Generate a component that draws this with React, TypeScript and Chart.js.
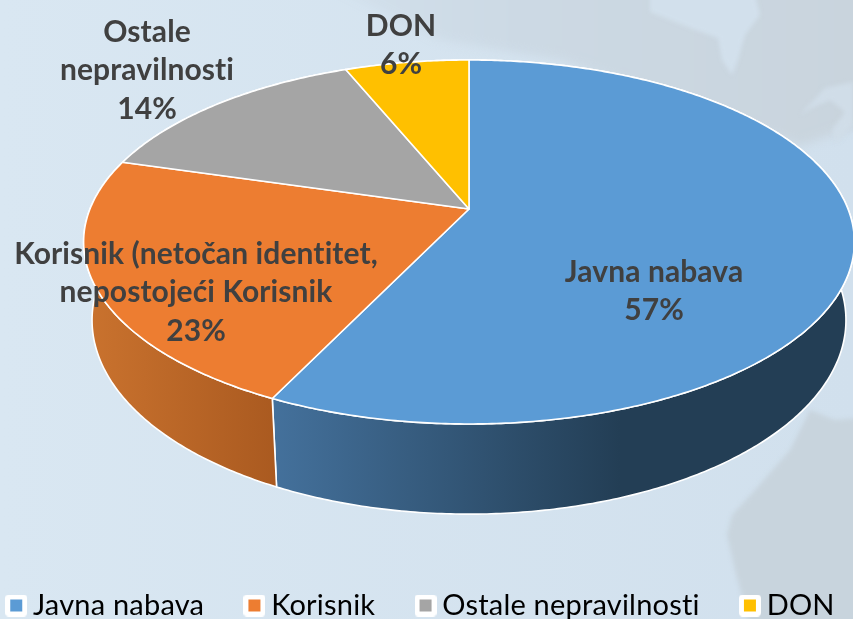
import React, { useEffect, useRef } from "react";
import { Chart, registerables } from "chart.js";

Chart.register(...registerables);

const categories = ["Javna nabava", "Korisnik", "Ostale nepravilnosti", "DON"];
const values = [57.15, 22.35, 14.3, 6.2];
const percentLabels = ["57%", "23%", "14%", "6%"];
const sliceColors = ["#5b9bd5", "#ed7d31", "#a5a5a5", "#ffc000"];
const wallLeftColors = ["#44719c", "#c9722e", "#8a8a8a", "#d9a400"];
const wallRightColors = ["#233e55", "#aa5a20", "#6a6a6a", "#a87f00"];
const labelLines = [
  ["Javna nabava"],
  ["Korisnik (netočan identitet,", "nepostojeći Korisnik"],
  ["Ostale", "nepravilnosti"],
  ["DON"],
];

// label centres (first line), one per slice
const labelCentreX = [654, 196, 147, 401];
const labelFirstY = [272, 254, 32, 26];
const lineStep = 38.5;

// perspective of the disc: x = cx + a*u/(1+k*v), y = y0 + b*v/(1+k*v)
const K = -0.1813;
const CX = 469;
const TOP = { a: 379, y0: 209, b: 176 };
const BOTTOM = { a: 370.7, y0: 285, b: 187.6 };

function project(rim: { a: number; y0: number; b: number }, angle: number) {
  const u = Math.cos(angle);
  const v = Math.sin(angle);
  const d = 1 + K * v;
  return [CX + (rim.a * u) / d, rim.y0 + (rim.b * v) / d];
}

function traceRim(ctx: CanvasRenderingContext2D, rim: any, from: number, to: number, first: boolean) {
  const steps = Math.max(8, Math.ceil(Math.abs(to - from) / 0.01));
  for (let i = 0; i <= steps; i++) {
    const [x, y] = project(rim, from + ((to - from) * i) / steps);
    if (first && i === 0) ctx.moveTo(x, y);
    else ctx.lineTo(x, y);
  }
}

function poly(ctx: CanvasRenderingContext2D, pts: number[][], fill: any) {
  ctx.beginPath();
  pts.forEach(([x, y], i) => (i ? ctx.lineTo(x, y) : ctx.moveTo(x, y)));
  ctx.closePath();
  ctx.fillStyle = fill;
  ctx.fill();
}

function swatch(color: string) {
  const c = document.createElement("canvas");
  c.width = 22;
  c.height = 22;
  const g = c.getContext("2d")!;
  g.fillStyle = "#ffffff";
  g.beginPath();
  g.roundRect(0, 0, 22, 22, 4);
  g.fill();
  g.fillStyle = color;
  g.fillRect(5, 5, 12, 12);
  return c;
}

const backdrop = {
  id: "backdrop",
  beforeLayout(chart: any) {
    chart.ctx.letterSpacing = "0.2px";
  },
  beforeDraw(chart: any) {
    const { ctx, width, height } = chart;
    ctx.letterSpacing = "0.2px";
    ctx.save();
    const sea = ctx.createLinearGradient(0, 0, width, 0);
    sea.addColorStop(0, "#d9e7f2");
    sea.addColorStop(1, "#d1e0ed");
    ctx.fillStyle = sea;
    ctx.fillRect(0, 0, width, height);
    const land = ctx.createLinearGradient(300, 0, 853, 0);
    land.addColorStop(0, "#d3e1ed");
    land.addColorStop(0.4, "#ccd9e4");
    land.addColorStop(1, "#c9d4dd");
    ctx.filter = "blur(5px)";
    poly(ctx, [[330, -15], [870, -15], [870, 122], [800, 146], [700, 110], [560, 60], [440, 40], [400, 20]], land);
    ctx.filter = "blur(2px)";
    poly(ctx, [[650, -5], [755, -5], [760, 15], [745, 35], [738, 60], [732, 75], [722, 60], [718, 38], [690, 28], [650, 12]], "#d2e0ec");
    poly(ctx, [[800, 115], [825, 88], [853, 82], [853, 125], [836, 143], [832, 130], [845, 112], [830, 100], [812, 108]], "#d0dde8");
    poly(ctx, [[860, 418], [835, 420], [810, 410], [790, 450], [755, 490], [732, 515], [727, 535], [735, 570], [750, 625], [860, 625]], "#c8d4dd");
    ctx.restore();
  },
};

const disc3d = {
  id: "disc3d",
  beforeDatasetDraw(chart: any, args: any) {
    const { ctx } = chart;
    const arcs = args.meta.data;
    ctx.save();
    ctx.lineJoin = "round";
    // walls first: the top face hides whatever faces away
    arcs.forEach((arc: any, i: number) => {
      const g = ctx.createLinearGradient(i === 0 ? 272 : 90, 0, i === 0 ? 620 : 276, 0);
      g.addColorStop(0, wallLeftColors[i]);
      g.addColorStop(1, wallRightColors[i]);
      ctx.beginPath();
      traceRim(ctx, TOP, arc.startAngle, arc.endAngle, true);
      traceRim(ctx, BOTTOM, arc.endAngle, arc.startAngle, false);
      ctx.closePath();
      ctx.fillStyle = g;
      ctx.fill();
      ctx.strokeStyle = "#ffffff";
      ctx.lineWidth = 1.6;
      ctx.stroke();
    });
    arcs.forEach((arc: any, i: number) => {
      ctx.beginPath();
      ctx.moveTo(CX, TOP.y0);
      traceRim(ctx, TOP, arc.startAngle, arc.endAngle, false);
      ctx.closePath();
      ctx.fillStyle = sliceColors[i];
      ctx.fill();
      ctx.strokeStyle = "#ffffff";
      ctx.lineWidth = 1.6;
      ctx.stroke();
    });
    ctx.restore();
    return false;
  },
  afterDatasetsDraw(chart: any) {
    const { ctx } = chart;
    ctx.save();
    ctx.font = "bold 30px Lato";
    ctx.letterSpacing = "0.1px";
    ctx.fillStyle = "#404040";
    ctx.textAlign = "center";
    ctx.textBaseline = "middle";
    labelLines.forEach((lines, i) => {
      const all = [...lines, percentLabels[i]];
      all.forEach((t, j) => ctx.fillText(t, labelCentreX[i], labelFirstY[i] + j * lineStep));
    });
    ctx.restore();
    ctx.letterSpacing = "0.2px";
  },
};

export default function App() {
  const ref = useRef<HTMLCanvasElement>(null);
  useEffect(() => {
    const legendGap = 48;
    const chart = new Chart(ref.current!, {
      type: "pie",
      data: {
        labels: categories,
        datasets: [{ data: values, backgroundColor: sliceColors, borderWidth: 0 }],
      },
      options: {
        responsive: false,
        animation: false,
        layout: { padding: { left: 14 - legendGap, right: -200, top: 0, bottom: -11 } },
        plugins: {
          tooltip: { enabled: false },
          legend: {
            position: "bottom",
            align: "start",
            labels: {
              usePointStyle: true,
              pointStyleWidth: 4.5,
              boxHeight: 22,
              padding: legendGap,
              color: "#595959",
              font: { family: "Lato", size: 29 },
              generateLabels: () =>
                categories.map((text, i) => ({
                  text,
                  fillStyle: sliceColors[i],
                  strokeStyle: "#ffffff",
                  lineWidth: 0,
                  pointStyle: swatch(sliceColors[i]),
                  index: i,
                })),
            },
          },
        },
      },
      plugins: [backdrop, disc3d],
    } as any);
    return () => chart.destroy();
  }, []);
  return (
    <div style={{ position: "fixed", left: 0, top: 0, width: 853, height: 619 }}>
      <canvas ref={ref} width={853} height={619} style={{ display: "block" }} />
    </div>
  );
}
